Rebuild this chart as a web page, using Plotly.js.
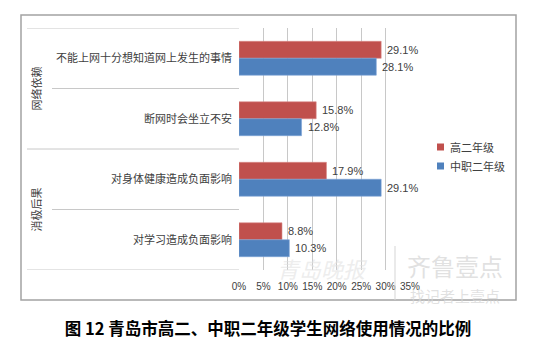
<!DOCTYPE html>
<html><head><meta charset="utf-8">
<script src="https://cdn.plot.ly/plotly-3.0.1.min.js"></script>
<style>html,body{margin:0;padding:0;background:#fff}#c{width:550px;height:352px}</style>
</head><body><div id="c"></div>
<script>
// ---- data ----
const categories = ['不能上网十分想知道网上发生的事情', '断网时会坐立不安', '对身体健康造成负面影响', '对学习造成负面影响'];
const groups = ['网络依赖', '网络依赖', '消极后果', '消极后果'];
const seriesNames = ['高二年级', '中职二年级'];
const gaoer = [29.1, 15.8, 17.9, 8.8];
const zhongzhi = [28.1, 12.8, 29.1, 10.3];
const xTickVals = [0, 5, 10, 15, 20, 25, 30, 35];
const xTickText = ['0%', '5%', '10%', '15%', '20%', '25%', '30%', '35%'];
const titleText = '图 12 青岛市高二、中职二年级学生网络使用情况的比例';

// ---- layout helpers ----
const L = 239, R = 410, T = 28, B = 270;
const px = v => (v - L) / (R - L);
const py = v => (B - v) / (B - T);
const colors = ['#c0504d', '#4f81bd'];
const lineCol = '#c8c8c8';
const cjk = '"Noto Sans CJK SC", "Noto Sans", sans-serif';
const lat = '"Liberation Sans", Arial, sans-serif';

const traces = [gaoer, zhongzhi].map((vals, k) => ({
  type: 'bar', orientation: 'h', name: seriesNames[k],
  x: vals, y: categories,
  marker: {color: colors[k], line: {color: k ? '#7ea4d6' : '#d98a88', width: 0.6}},
  hoverinfo: 'x+y', showlegend: false
}));

const shapes = [];
// frame of whole chart
shapes.push({type: 'rect', xref: 'paper', yref: 'paper', x0: px(21), x1: px(516), y0: py(15), y1: py(300),
  line: {color: '#a3a3a3', width: 1.5}, layer: 'below'});
// separators
const n = categories.length;
shapes.push({type: 'line', xref: 'paper', yref: 'y', x0: px(27), x1: 0, y0: -0.5, y1: -0.5, line: {color: lineCol, width: 1}});
for (let i = 0; i < n; i++) {
  const last = i === n - 1;
  const big = last || groups[i] !== groups[i + 1];
  shapes.push({type: 'line', xref: 'paper', yref: 'y', x0: px(big ? 27 : 52), x1: 0, y0: i + 0.5, y1: i + 0.5,
    line: {color: lineCol, width: 1}});
}

const annotations = [];
// group labels
const uniq = [...new Set(groups)];
uniq.forEach(g => {
  const idx = groups.map((v, i) => v === g ? i : -1).filter(i => i >= 0);
  const mid = (idx[0] + idx[idx.length - 1]) / 2;
  annotations.push({xref: 'paper', yref: 'y', x: px(35), y: mid, text: g, showarrow: false, textangle: -90,
    font: {family: cjk, size: 11, color: '#404040'}, xanchor: 'center', yanchor: 'middle'});
});
// data labels
const off = 0.139;
[gaoer, zhongzhi].forEach((vals, k) => {
  vals.forEach((v, i) => {
    annotations.push({xref: 'x', yref: 'y', x: v, y: i + (k === 0 ? -off : off), text: v.toFixed(1) + '%',
      showarrow: false, xanchor: 'left', yanchor: 'middle', xshift: 4,
      font: {family: lat, size: 11, color: '#404040'}});
  });
});
// legend (swatch + name per series)
seriesNames.forEach((name, k) => {
  const cy = k === 0 ? 147 : 166;
  shapes.push({type: 'rect', xref: 'paper', yref: 'paper', x0: px(437), x1: px(444), y0: py(cy + 3.5), y1: py(cy - 3.5),
    fillcolor: colors[k], line: {width: 0}});
  annotations.push({xref: 'paper', yref: 'paper', x: px(448), y: py(cy), text: name, showarrow: false,
    xanchor: 'left', yanchor: 'middle', font: {family: cjk, size: 11, color: '#404040'}});
});
// watermark
annotations.push({xref: 'paper', yref: 'paper', x: px(455), y: py(265), text: '齐鲁壹点', showarrow: false,
  font: {family: cjk, size: 24, color: 'rgba(215,215,215,0.75)'}, xanchor: 'center', yanchor: 'middle'});
annotations.push({xref: 'paper', yref: 'paper', x: px(455), y: py(295), text: '找记者上壹点', showarrow: false,
  font: {family: cjk, size: 15, color: 'rgba(215,215,215,0.75)'}, xanchor: 'center', yanchor: 'middle'});
annotations.push({xref: 'paper', yref: 'paper', x: px(322), y: py(268), text: '<i>青岛晚报</i>', showarrow: false,
  font: {family: cjk, size: 22, color: 'rgba(225,225,225,0.6)'}, xanchor: 'center', yanchor: 'middle'});
shapes.push({type: 'line', xref: 'paper', yref: 'paper', x0: px(395), x1: px(395), y0: py(246), y1: py(300),
  line: {color: 'rgba(215,215,215,0.7)', width: 1.5}});

const layout = {
  width: 550, height: 352,
  margin: {l: L, r: 550 - R, t: T, b: 352 - B, pad: 0},
  paper_bgcolor: '#fff', plot_bgcolor: '#fff',
  barmode: 'group', bargap: 0.44, bargroupgap: 0,
  showlegend: false,
  title: {text: '<b>' + titleText + '</b>', x: 268 / 550, xanchor: 'center', y: 1 - 329 / 352, yanchor: 'middle',
    font: {family: cjk, size: 16.5, color: '#000'}},
  xaxis: {range: [0, 35], tickvals: xTickVals, ticktext: xTickText, showgrid: true, gridcolor: lineCol, gridwidth: 1,
    zeroline: false, showline: false, ticks: '', fixedrange: true, ticklabelstandoff: 9,
    tickfont: {family: lat, size: 10, color: '#404040'}},
  yaxis: {type: 'category', range: [n - 0.5, -0.5], showgrid: false, zeroline: false, showline: false, ticks: '',
    ticklabelstandoff: 6,
    tickfont: {family: cjk, size: 11, color: '#404040'}, fixedrange: true},
  shapes: shapes, annotations: annotations
};

Plotly.newPlot('c', traces, layout, {displayModeBar: false, staticPlot: true});
</script></body></html>
